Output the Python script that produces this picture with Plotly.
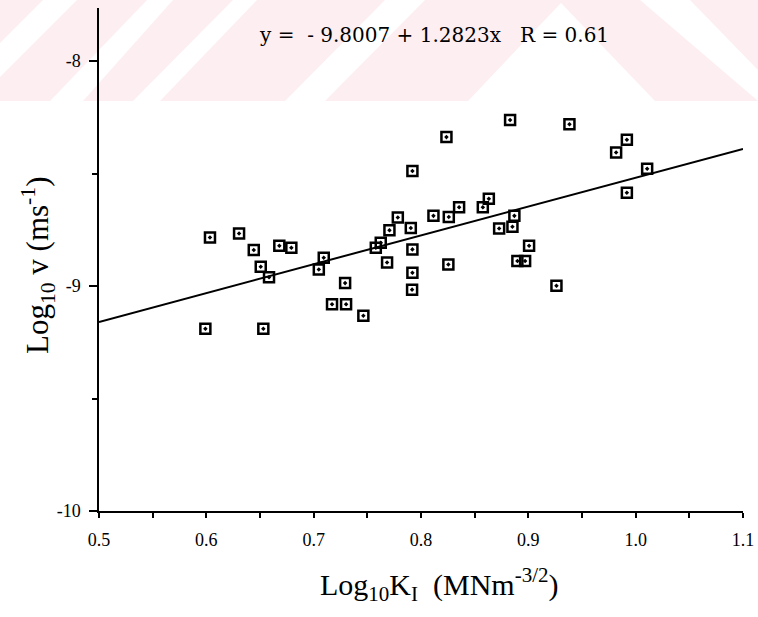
import plotly.graph_objects as go

# ---- data ----
log_k = [0.792, 0.6034, 0.6305, 0.6442, 0.668, 0.6792, 0.6507, 0.6584, 0.7094, 0.7048,
         0.7293, 0.7171, 0.7302, 0.7463, 0.5991, 0.6531, 0.7579, 0.7625, 0.7684, 0.7706,
         0.7784, 0.7905, 0.792, 0.792, 0.7917,
         0.883, 0.9383, 0.8237, 0.9918, 0.9818, 1.0107, 0.9918, 0.8632, 0.8576, 0.8355,
         0.8116, 0.8259, 0.887, 0.8852, 0.8728, 0.8255, 0.9007, 0.8898, 0.897, 0.9262]
log_v = [-8.489, -8.784, -8.766, -8.84, -8.821, -8.83, -8.914, -8.961, -8.874, -8.926,
         -8.987, -9.081, -9.081, -9.132, -9.19, -9.19, -8.83, -8.808, -8.895, -8.752,
         -8.695, -8.742, -8.837, -8.941, -9.016,
         -8.262, -8.281, -8.338, -8.35, -8.406, -8.479, -8.585, -8.612, -8.65, -8.65,
         -8.688, -8.693, -8.688, -8.736, -8.744, -8.904, -8.821, -8.889, -8.889, -8.999]

intercept = -9.8007
slope = 1.2823
r_value = 0.61
fit_x = [0.5, 1.1]
fit_y = [intercept + slope * x for x in fit_x]

x_ticks = [0.5, 0.6, 0.7, 0.8, 0.9, 1.0, 1.1]
x_tick_text = ["0.5", "0.6", "0.7", "0.8", "0.9", "1.0", "1.1"]
y_ticks = [-10, -9, -8]
y_tick_text = ["-10", "-9", "-8"]

# ---- layout geometry ----
W, H = 758, 617
ML, MR, MT, MB = 99, 15, 8, 106
PW, PH = W - ML - MR, H - MT - MB


def px(xp):
    return (xp - ML) / PW


def py(yp):
    return (H - MB - yp) / PH


SERIF = "Liberation Serif, Times New Roman, serif"
EQ_FONT = "DejaVu Serif, serif"

fig = go.Figure()

fig.add_trace(go.Scatter(
    x=fit_x, y=fit_y, mode="lines",
    line=dict(color="black", width=2),
    showlegend=False, hoverinfo="skip"))

fig.add_trace(go.Scatter(
    x=log_k, y=log_v, mode="markers",
    marker=dict(symbol="square-open-dot", size=10, color="black",
                line=dict(color="black", width=2.5)),
    showlegend=False))

# faint watermark band at the top
pink = "#fdeef1"
shapes = [dict(type="rect", xref="paper", yref="paper",
               x0=px(0), x1=px(W), y0=py(101), y1=py(0),
               fillcolor=pink, line=dict(width=0), layer="below")]
white_polys = [
    [(43, 0), (77, 0), (-24, 101), (-58, 101)],
    [(147, 0), (173, 0), (83, 101), (50, 101)],
    [(233, 0), (257, 0), (160, 101), (133, 101)],
    [(385, 0), (425, 0), (325, 101), (285, 101)],
    [(561, 3), (655, 101), (468, 101)],
    [(640, 0), (690, 0), (758, 70), (758, 101)],
]
for poly in white_polys:
    path = "M " + " L ".join(f"{px(a):.5f},{py(b):.5f}" for a, b in poly) + " Z"
    shapes.append(dict(type="path", xref="paper", yref="paper", path=path,
                       fillcolor="white", line=dict(width=0), layer="below"))

annotations = [
    dict(text=f"y =  - {abs(intercept):.4f} + {slope:.4f}x   R = {r_value:.2f}",
         xref="paper", yref="paper", x=px(434), y=py(35),
         xanchor="center", yanchor="middle", showarrow=False,
         font=dict(family=EQ_FONT, size=20, color="black")),
    dict(text="Log<sub>10</sub>K<sub>I</sub>  (MNm<sup>-3/2</sup>)",
         xref="paper", yref="paper", x=px(439), y=py(584),
         xanchor="center", yanchor="middle", showarrow=False,
         font=dict(family=SERIF, size=30, color="black")),
    dict(text="Log<sub>10</sub> v (ms<sup>-1</sup>)",
         xref="paper", yref="paper", x=px(38), y=py(265),
         xanchor="center", yanchor="middle", showarrow=False, textangle=-90,
         font=dict(family=SERIF, size=31, color="black")),
]

fig.update_layout(
    width=W, height=H,
    margin=dict(l=ML, r=MR, t=MT, b=MB, autoexpand=False),
    paper_bgcolor="white", plot_bgcolor="rgba(0,0,0,0)",
    shapes=shapes, annotations=annotations,
    xaxis=dict(range=[0.5, 1.1], tickvals=x_ticks, ticktext=x_tick_text,
               showgrid=False, zeroline=False, ticklabeloverflow="allow",
               ticklabelstandoff=7,
               showline=True, linecolor="black", linewidth=1.5,
               ticks="outside", ticklen=5, tickwidth=1.5, tickcolor="black",
               minor=dict(dtick=0.05, tick0=0.5, ticks="outside", ticklen=5,
                          tickwidth=1.5, tickcolor="black", showgrid=False),
               tickfont=dict(family=SERIF, size=18, color="black")),
    yaxis=dict(range=[-10, -7.764], tickvals=y_ticks, ticktext=y_tick_text,
               showgrid=False, zeroline=False, ticklabeloverflow="allow",
               ticklabelstandoff=5,
               showline=True, linecolor="black", linewidth=1.5,
               ticks="outside", ticklen=8, tickwidth=1.5, tickcolor="black",
               minor=dict(dtick=0.5, tick0=-10, ticks="outside", ticklen=5,
                          tickwidth=1.5, tickcolor="black", showgrid=False),
               tickfont=dict(family=SERIF, size=18, color="black")),
)

fig.write_html("out.html", config={"displayModeBar": False},
               post_script="document.body.style.margin='0';document.body.style.overflow='hidden';")
